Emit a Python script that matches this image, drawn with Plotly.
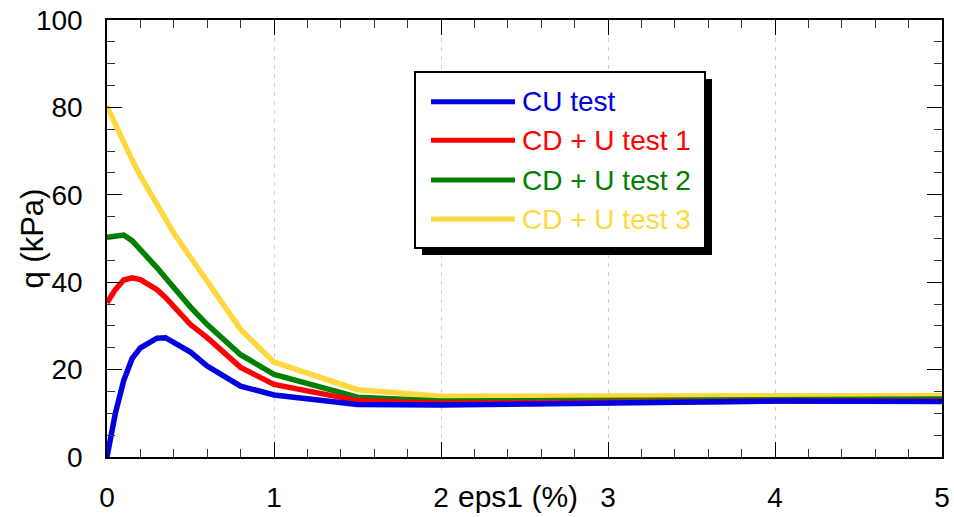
import plotly.graph_objects as go

# ---- data ----
eps1 = [0, 0.05, 0.1, 0.15, 0.2, 0.3, 0.35, 0.4, 0.5, 0.6, 0.8, 1.0, 1.5, 2, 3, 4, 5]
q_cu = [0, 10, 17.5, 22.5, 25, 27.2, 27.3, 26.3, 24, 20.8, 16.2, 14.2, 12, 11.9, 12.3, 12.8, 12.7]
q_cdu1 = [35.3, 38.3, 40.5, 41, 40.6, 38.3, 36.5, 34.3, 30.3, 27.3, 20.5, 16.6, 12.9, 12.3, 12.6, 12.8, 12.8]
q_cdu2 = [50.3, 50.5, 50.8, 49.5, 47.5, 43.3, 41, 38.7, 34.3, 30.3, 23.4, 18.9, 13.7, 12.8, 12.9, 13.3, 13.3]
q_cdu3 = [80.3, 76, 72.1, 68, 64.3, 57.5, 54.3, 51.2, 45.7, 40.3, 29.2, 21.7, 15.4, 13.9, 13.8, 14.0, 14.0]

series_names = ["CU test", "CD + U test 1", "CD + U test 2", "CD + U test 3"]
series_values = [q_cu, q_cdu1, q_cdu2, q_cdu3]
series_colors = ["#0000E0", "#FF0000", "#008000", "#FFD83F"]

x_title = "eps1 (%)"
y_title = "q (kPa)"

FONT = "Liberation Sans, Arial, sans-serif"
W, H = 954, 517
ML, MR, MT, MB = 107, 12, 20, 60


def px2paper(px, py):
    return (px - ML) / (W - ML - MR), (H - MB - py) / (H - MT - MB)


fig = go.Figure()
# draw in reverse so the CU curve is on top
for name, vals, col in reversed(list(zip(series_names, series_values, series_colors))):
    fig.add_trace(go.Scatter(x=eps1, y=vals, mode="lines", name=name,
                             line=dict(color=col, width=5.5), showlegend=False))

shapes = []
annotations = []

# legend box with shadow
bx0, by0, bx1, by1 = 415, 72, 705, 248
sh = 7
for (ox, oy, fill, lw) in [(sh, sh, "black", 0), (0, 0, "white", 2)]:
    x0, y0 = px2paper(bx0 + ox, by1 + oy)
    x1, y1 = px2paper(bx1 + ox, by0 + oy)
    shapes.append(dict(type="rect", xref="paper", yref="paper", x0=x0, x1=x1, y0=y0, y1=y1,
                       fillcolor=fill, line=dict(color="black", width=lw), layer="above"))

row_y = [101.7, 140.3, 180, 219]
for name, col, ry in zip(series_names, series_colors, row_y):
    lx0, ly = px2paper(431, ry)
    lx1, _ = px2paper(515, ry)
    shapes.append(dict(type="line", xref="paper", yref="paper", x0=lx0, x1=lx1, y0=ly, y1=ly,
                       line=dict(color=col, width=5), layer="above"))
    tx, _ = px2paper(520, ry)
    annotations.append(dict(xref="paper", yref="paper", x=tx, y=ly, text=name, showarrow=False,
                            xanchor="left", yanchor="middle",
                            font=dict(family=FONT, size=28, color=col)))

# axis titles
tx, ty = px2paper(518, 497)
annotations.append(dict(xref="paper", yref="paper", x=tx, y=ty, text=x_title, showarrow=False,
                        xanchor="center", yanchor="middle",
                        font=dict(family=FONT, size=30, color="black")))
tx, ty = px2paper(32, 238.5)
annotations.append(dict(xref="paper", yref="paper", x=tx, y=ty, text=y_title, showarrow=False,
                        textangle=-90, xanchor="center", yanchor="middle",
                        font=dict(family=FONT, size=31, color="black")))

fig.update_layout(
    width=W, height=H,
    margin=dict(l=ML, r=MR, t=MT, b=MB),
    paper_bgcolor="white", plot_bgcolor="white",
    font=dict(family=FONT, size=28, color="black"),
    shapes=shapes, annotations=annotations,
    showlegend=False,
)
fig.update_xaxes(
    range=[0, 5], tick0=0, dtick=1, ticks="inside", ticklen=15, tickwidth=1, tickcolor="black",
    showline=True, linecolor="black", linewidth=1.5, mirror="ticks",
    showgrid=True, gridcolor="#d0d0d0", gridwidth=1, griddash="4px,5px", zeroline=False,
    minor=dict(dtick=0.2, ticks="inside", ticklen=8, tickcolor="#333", showgrid=False),
    tickfont=dict(size=28), ticklabelstandoff=15, automargin=False,
)
fig.update_yaxes(
    range=[0, 100], tick0=0, dtick=20, ticks="inside", ticklen=15, tickwidth=1, tickcolor="black",
    showline=True, linecolor="black", linewidth=1.5, mirror="ticks",
    showgrid=False, zeroline=False,
    minor=dict(dtick=5, ticks="inside", ticklen=8, tickcolor="#333", showgrid=False),
    tickfont=dict(size=28), ticklabelstandoff=17, automargin=False,
)

fig.write_html("out.html")
